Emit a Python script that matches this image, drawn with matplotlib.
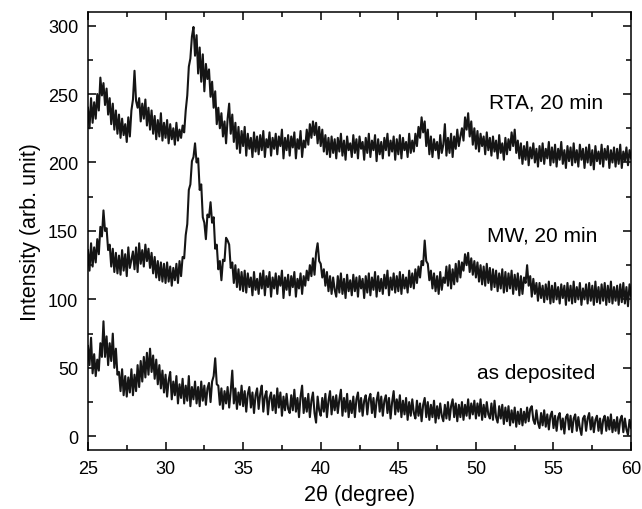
import matplotlib
matplotlib.use('Agg')
import matplotlib.pyplot as plt
import numpy as np
from matplotlib.ticker import MultipleLocator

plt.rcParams['font.family'] = ['Liberation Sans', 'DejaVu Sans']

# 2theta grid, 0.1 degree steps from 25 to 60
two_theta = np.round(np.arange(25.0, 60.05, 0.1), 2)

rta_20min = [
    240, 225, 247, 229, 244, 232, 250, 238, 262, 249,
    258, 242, 254, 235, 247, 228, 243, 224, 238, 221,
    235, 218, 232, 220, 228, 215, 233, 219, 238, 246,
    267, 245, 240, 247, 230, 243, 232, 246, 227, 240,
    224, 238, 221, 234, 217, 231, 219, 236, 216, 229,
    218, 231, 214, 228, 217, 225, 213, 229, 216, 224,
    218, 227, 222, 238, 249, 270, 276, 292, 299, 278,
    293, 265, 284, 259, 279, 252, 272, 261, 268, 248,
    259, 240, 252, 228, 240, 225, 236, 219, 230, 214,
    232, 243, 221, 235, 215, 229, 210, 226, 207, 223,
    212, 226, 205, 221, 210, 218, 204, 222, 208, 219,
    206, 220, 209, 223, 204, 217, 211, 222, 205, 218,
    210, 221, 206, 219, 212, 224, 203, 218, 209, 220,
    205, 219, 211, 222, 203, 217, 210, 223, 204, 216,
    211, 224, 213, 228, 218, 230, 220, 229, 214, 226,
    212, 224, 208, 220, 206, 218, 204, 219, 207, 217,
    203, 218, 208, 221, 205, 216, 202, 219, 209, 214,
    204, 220, 207, 217, 203, 219, 210, 215, 202, 218,
    207, 221, 204, 216, 209, 220, 201, 217, 206, 215,
    203, 218, 209, 221, 205, 216, 208, 219, 202, 217,
    206, 220, 203, 218, 209, 215, 204, 221, 207, 216,
    208, 221, 212, 226, 218, 233, 222, 230, 212, 224,
    206, 219, 204, 217, 209, 215, 203, 220, 207, 213,
    228, 205, 218, 207, 221, 204, 219, 210, 224, 212,
    219, 225, 216, 233, 224, 236, 219, 230, 213, 225,
    210, 223, 208, 221, 212, 219, 206, 222, 209, 218,
    205, 219, 208, 216, 203, 220, 207, 214, 202, 218,
    206, 217, 209, 222, 212, 224, 207, 216, 203, 214,
    199, 212, 202, 215, 198, 211, 203, 214, 200, 210,
    197, 212, 201, 214, 199, 210, 203, 215, 198, 211,
    200, 213, 197, 210, 202, 215, 199, 209, 196, 212,
    201, 211, 198, 214, 200, 209, 197, 213, 202, 210,
    196, 211, 200, 213, 198, 209, 195, 212, 201, 208,
    199, 213, 197, 210, 202, 212, 196, 209, 200, 211,
    197, 210, 199, 213, 196, 208, 201, 211, 198, 209,
    203,
]

mw_20min = [
    136, 121, 141, 124, 138, 127, 144, 133, 153, 146,
    165, 150, 152, 136, 140, 124, 137, 120, 134, 119,
    132, 118, 136, 121, 133, 117, 138, 123, 129, 135,
    122, 138, 120, 141, 126, 136, 124, 140, 128, 137,
    123, 134, 119, 131, 116, 128, 114, 127, 113, 126,
    112, 127, 113, 124, 110, 123, 114, 126, 112, 128,
    117, 131, 130, 147, 155, 180, 184, 201, 204, 214,
    200, 203, 180, 184, 160, 156, 144, 162, 160, 171,
    156, 160, 137, 140, 122, 128, 114, 129, 128, 145,
    143, 140, 123, 127, 112, 125, 109, 122, 107, 120,
    106, 121, 105, 119, 109, 116, 103, 120, 107, 115,
    104, 119, 108, 121, 103, 117, 109, 120, 102, 116,
    108, 119, 104, 117, 110, 121, 101, 116, 107, 118,
    103, 117, 109, 120, 102, 115, 108, 119, 104, 117,
    110, 121, 114, 125, 117, 130, 118, 134, 141, 128,
    126, 116, 122, 110, 120, 106, 117, 104, 116, 107,
    102, 117, 105, 119, 104, 115, 101, 118, 106, 114,
    103, 118, 106, 116, 102, 117, 108, 115, 101, 117,
    105, 119, 103, 116, 107, 120, 102, 117, 106, 115,
    104, 118, 108, 121, 103, 116, 107, 119, 105, 117,
    106, 120, 104, 118, 108, 116, 105, 121, 109, 119,
    108, 122, 112, 124, 116, 128, 125, 143, 128, 126,
    114, 121, 108, 119, 106, 117, 104, 120, 107, 116,
    112, 124, 110, 125, 108, 122, 111, 126, 113, 128,
    116, 127, 121, 133, 125, 134, 120, 130, 118, 128,
    116, 127, 113, 125, 111, 124, 110, 126, 112, 123,
    107, 122, 109, 121, 106, 119, 108, 122, 105, 120,
    106, 119, 108, 121, 104, 118, 107, 119, 103, 117,
    104, 116, 112, 125, 110, 117, 102, 115, 104, 112,
    99, 112, 101, 110, 98, 111, 100, 113, 97, 110,
    98, 112, 100, 109, 97, 111, 101, 110, 96, 112,
    99, 110, 97, 113, 98, 109, 100, 112, 96, 108,
    100, 111, 97, 112, 99, 110, 96, 113, 98, 109,
    97, 111, 99, 112, 96, 110, 98, 113, 97, 109,
    99, 110, 96, 111, 98, 112, 97, 109, 95, 111,
    102,
]

as_deposited = [
    66, 52, 72, 46, 60, 44, 56, 48, 68, 58,
    84, 58, 73, 52, 68, 55, 75, 50, 64, 45,
    47, 33, 49, 30, 44, 29, 43, 32, 49, 30,
    45, 33, 52, 36, 55, 40, 58, 43, 61, 45,
    64, 47, 59, 42, 56, 38, 52, 35, 48, 32,
    45, 29, 41, 47, 27, 40, 30, 44, 24, 38,
    28, 42, 24, 37, 26, 44, 22, 36, 27, 40,
    24, 36, 22, 40, 26, 37, 23, 35, 39, 25,
    40, 44, 57, 38, 37, 23, 35, 20, 33, 24,
    36, 21, 33, 48, 24, 35, 20, 32, 23, 37,
    22, 33, 18, 31, 36, 21, 32, 17, 30, 35,
    20, 31, 37, 18, 29, 33, 16, 28, 32, 19,
    30, 17, 35, 21, 32, 15, 29, 19, 31, 20,
    17, 30, 19, 34, 18, 28, 14, 29, 37, 17,
    28, 18, 31, 14, 26, 32, 17, 10, 29, 19,
    15, 28, 18, 31, 14, 26, 33, 16, 29, 19,
    30, 17, 27, 34, 15, 28, 18, 31, 14, 26,
    17, 29, 14, 27, 32, 18, 28, 15, 26, 30,
    16, 27, 31, 17, 28, 14, 26, 32, 18, 29,
    15, 26, 30, 17, 28, 13, 25, 33, 16, 27,
    18, 30, 14, 26, 16, 28, 12, 25, 15, 27,
    17, 13, 26, 15, 24, 11, 23, 28, 14, 25,
    12, 23, 14, 26, 10, 22, 13, 24, 15, 11,
    23, 13, 25, 12, 22, 27, 14, 24, 11, 23,
    14, 25, 12, 23, 15, 27, 13, 24, 16, 26,
    13, 24, 15, 27, 12, 23, 14, 25, 16, 13,
    24, 12, 26, 14, 10, 22, 13, 23, 9, 21,
    11, 22, 8, 19, 10, 21, 7, 18, 9, 20,
    8, 18, 10, 21, 11, 20, 22, 12, 9, 19,
    10, 6, 17, 8, 19, 7, 16, 5, 15, 18,
    6, 15, 4, 14, 17, 5, 13, 2, 14, 16,
    5, 15, 3, 13, 16, 4, 14, 6, 1, 13,
    15, 4, 13, 17, 5, 14, 3, 12, 15, 4,
    13, 2, 12, 15, 4, 14, 5, 16, 3, 12,
    4, 14, 2, 12, 15, 3, 13, 5, 1, 12,
    6,
]

labels = ['RTA, 20 min', 'MW, 20 min', 'as deposited']
label_pos = [(54.5, 244), (54.3, 147), (53.9, 46.5)]

fig = plt.figure(figsize=(6.42, 5.10), dpi=100)
ax = fig.add_axes([0.137, 0.1157, 0.846, 0.859])

for series in [rta_20min, mw_20min, as_deposited]:
    ax.plot(two_theta, series, color='#151515', lw=1.5)

for txt, (lx, ly) in zip(labels, label_pos):
    ax.text(lx, ly, txt, fontsize=15, ha='center', va='center')

ax.set_xlim(25, 60)
ax.set_ylim(-10, 310)
ax.xaxis.set_major_locator(MultipleLocator(5))
ax.xaxis.set_minor_locator(MultipleLocator(2.5))
ax.yaxis.set_major_locator(MultipleLocator(50))
ax.yaxis.set_minor_locator(MultipleLocator(25))
ax.tick_params(which='both', direction='in', top=True, right=True, labelsize=13, width=1.1)
ax.tick_params(which='major', length=6, pad=7)
ax.tick_params(which='minor', length=3.5)
for s in ax.spines.values():
    s.set_linewidth(1.1)

ax.set_xlabel('2θ (degree)', fontsize=15.5, labelpad=5)
ax.set_ylabel('Intensity (arb. unit)', fontsize=15.5, labelpad=5)

fig.savefig('out.png', dpi=100)
